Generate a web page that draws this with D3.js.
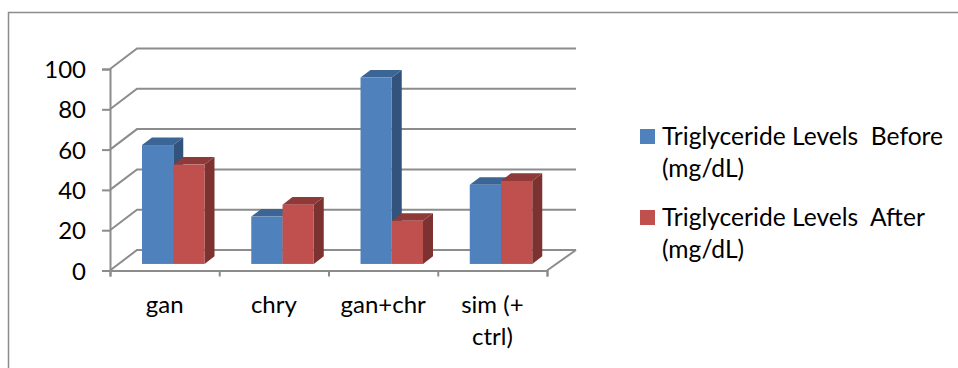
<!DOCTYPE html>
<html>
<head>
<meta charset="utf-8">
<script src="https://cdn.jsdelivr.net/npm/d3@7"></script>
<style>
  body { margin: 0; background: #fff; }
  text { font-family: Lato, "Open Sans", sans-serif; fill: #000; }
</style>
</head>
<body>
<div id="chart"></div>
<script>
const categories = ["gan", "chry", "gan+chr", "sim (+ ctrl)"];
const seriesNames = ["Triglyceride Levels  Before (mg/dL)", "Triglyceride Levels  After (mg/dL)"];
const before = [59, 23.5, 92.5, 39.3];
const after = [49.3, 29.4, 21.4, 41.2];
const yTicks = [0, 20, 40, 60, 80, 100];

const frontColors = ["#4f81bd", "#c0504d"];
const topColors = ["#3b6595", "#8f3a38"];
const sideColors = ["#31537c", "#7b3230"];
const gridColor = "#8c8c8c";

const svg = d3.select("#chart").append("svg")
    .attr("width", 958)
    .attr("height", 368)
    .style("display", "block");

// outer frame, only top and left are inside the crop
svg.append("path")
    .attr("d", "M958,12.5H8.5V368")
    .attr("fill", "none")
    .attr("stroke", "#8c8c8c")
    .attr("stroke-width", 1.5);

const y = d3.scaleLinear().domain([0, 100]).range([270.5, 69]);
const x = d3.scaleBand().domain(categories).range([110, 547]);
const xEdges = d3.scaleLinear().domain([0, categories.length]).range([110, 547]);
const band = x.bandwidth();
const inner = d3.scaleBand().domain([0, 1]).range([band * 0.214, band * 0.786]);

// depth of the 3d box, 0 = front of the floor, 1 = back wall
const depthX = d3.scaleLinear().domain([0, 1]).range([0, 27]);
const depthY = d3.scaleLinear().domain([0, 1]).range([0, -20.5]);
const barFront = 0.32;
const barBack = 0.69;

function pt(px, value, depth) {
    return [px + depthX(depth), y(value) + depthY(depth)];
}

const walls = svg.append("g")
    .attr("fill", "none")
    .attr("stroke", gridColor)
    .attr("stroke-width", 2);

// gridlines run along the side wall and then the back wall
walls.selectAll("path.grid")
    .data(yTicks)
    .enter().append("path")
    .attr("class", "grid")
    .attr("d", d => d3.line()([pt(110, d, 0), pt(110, d, 1), pt(549, d, 1)]));

// floor
walls.append("path")
    .attr("d", d3.line()([pt(547, 0, 0), pt(549, 0, 1)]));

const yAxis = d3.axisLeft(y).tickValues(yTicks).tickSize(8).tickPadding(16);
const gy = svg.append("g").attr("transform", "translate(110,0)").call(yAxis);
gy.selectAll("path, line").attr("stroke", gridColor).attr("stroke-width", 2);
gy.selectAll("text").style("font-size", "24px").attr("dy", "0.36em");

const xAxis = d3.axisBottom(xEdges).ticks(categories.length).tickSize(6).tickSizeOuter(6).tickFormat("");
const gx = svg.append("g").attr("transform", "translate(0,270.5)").call(xAxis);
gx.selectAll("path, line").attr("stroke", gridColor).attr("stroke-width", 2);

function drawBar(g, left, width, value, i) {
    const right = left + width;
    g.append("path")
        .attr("fill", sideColors[i])
        .attr("d", d3.line()([pt(right, 0, barFront), pt(right, 0, barBack), pt(right, value, barBack), pt(right, value, barFront)]));
    g.append("path")
        .attr("fill", topColors[i])
        .attr("d", d3.line()([pt(left, value, barFront), pt(left, value, barBack), pt(right, value, barBack), pt(right, value, barFront)]));
    const a = pt(left, value, barFront);
    const b = pt(right, 0, barFront);
    g.append("rect")
        .attr("x", a[0])
        .attr("y", a[1])
        .attr("width", b[0] - a[0])
        .attr("height", b[1] - a[1])
        .attr("fill", frontColors[i]);
}

const bars = svg.append("g");
categories.forEach((c, k) => {
    [before[k], after[k]].forEach((v, i) => {
        drawBar(bars, x(c) + inner(i), inner.bandwidth(), v, i);
    });
});

// category labels, wrapped to the band like the original
function wrapInto(textSel, str, maxWidth, lineHeight) {
    const words = str.split(" ");
    const lines = [];
    let line = "";
    const probe = textSel.append("tspan");
    words.forEach(w => {
        const next = line ? line + " " + w : w;
        probe.text(next);
        if (probe.node().getComputedTextLength() > maxWidth && line) {
            lines.push(line);
            line = w;
        } else {
            line = next;
        }
    });
    lines.push(line);
    probe.remove();
    lines.forEach((l, i) => {
        textSel.append("tspan")
            .attr("x", textSel.attr("x"))
            .attr("y", +textSel.attr("y") + i * lineHeight)
            .text(l);
    });
}

svg.append("g").selectAll("text")
    .data(categories)
    .enter().append("text")
    .attr("x", d => x(d) + band / 2)
    .attr("y", 313)
    .attr("text-anchor", "middle")
    .style("font-size", "24px")
    .each(function(d) { wrapInto(d3.select(this), d, 100, 32); });

// legend
const legendY = d3.scalePoint().domain(seriesNames).range([129, 210]);
const legend = svg.append("g").selectAll("g")
    .data(seriesNames)
    .enter().append("g")
    .attr("transform", d => `translate(640,${legendY(d)})`);

legend.append("rect")
    .attr("width", 15)
    .attr("height", 15)
    .attr("fill", (d, i) => frontColors[i]);

legend.append("text")
    .attr("x", 22)
    .attr("y", 16)
    .style("font-size", "24.6px")
    .style("white-space", "pre")
    .each(function(d) { wrapInto(d3.select(this), d, 290, 32); });
</script>
</body>
</html>
